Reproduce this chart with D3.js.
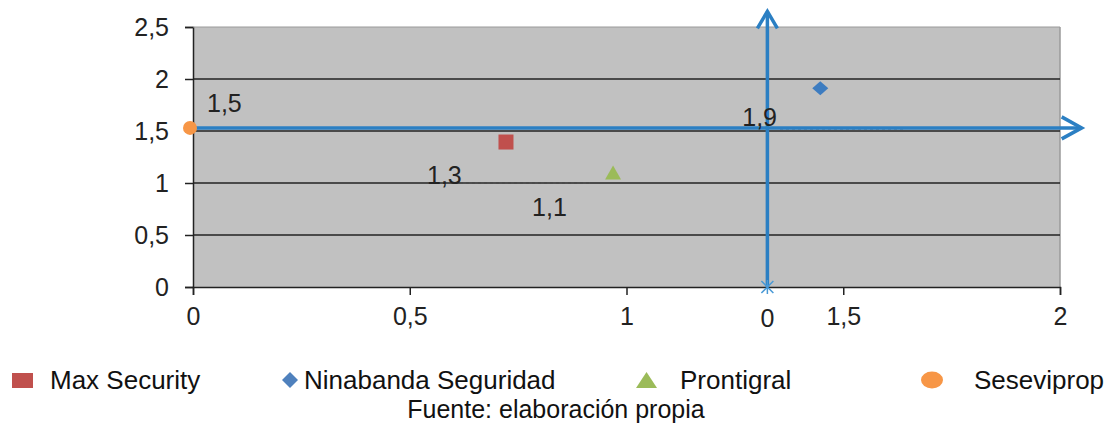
<!DOCTYPE html>
<html><head><meta charset="utf-8">
<script src="https://cdn.jsdelivr.net/npm/d3@7"></script>
<style>
html,body{margin:0;padding:0;background:#fff;}
svg{display:block;font-family:"Liberation Sans",Arial,sans-serif;}
</style></head>
<body><svg id="c" width="1112" height="425"></svg>
<script>
// ---- data ----
const seriesNames = ["Max Security", "Ninabanda Seguridad", "Prontigral", "Seseviprop"];
const xValues = [0.722, 1.447, 0.969, 0.0];
const yValues = [1.394, 1.91, 1.1, 1.53];
const pointLabels = ["1,3", "1,9", "1,1", "1,5"];
const seriesColors = ["#c0504d", "#3d7cc0", "#9bbb59", "#f79646"];
const seriesShapes = ["square", "diamond", "triangle", "circle"];
const xTicks = [0, 0.5, 1, 1.5, 2];
const yTicks = [0, 0.5, 1, 1.5, 2, 2.5];
const crossX = 1.325, crossY = 1.53;      // overlay quadrant axes
const crossXEnd = 2.05, crossYEnd = 2.65;  // arrow tips
const crossLabel = "0";
const sourceText = "Fuente: elaboración propia";

const svg = d3.select("#c");
const x = d3.scaleLinear().domain([0, 2]).range([193, 1060]);
const y = d3.scaleLinear().domain([0, 2.5]).range([287, 27]);
const fmt = d => String(d).replace(".", ",");

// plot background
svg.append("rect").attr("x", x(0)).attr("y", y(2.5))
  .attr("width", x(2) - x(0)).attr("height", y(0) - y(2.5))
  .attr("fill", "#c1c1c1");
svg.append("line").attr("x1", x(2)).attr("x2", x(2)).attr("y1", y(2.5)).attr("y2", y(0))
  .attr("stroke", "#9a9a9a").attr("stroke-width", 1.5);

// gridlines + y axis
const yAxis = d3.axisLeft(y).tickValues(yTicks).tickFormat(fmt).tickSize(8).tickPadding(16);
const gy = svg.append("g").attr("transform", `translate(${x(0)},0)`).call(yAxis);
gy.select(".domain").attr("stroke", "#222").attr("stroke-width", 1.5);
gy.selectAll(".tick line").attr("stroke", "#222").attr("stroke-width", 1.5);
gy.selectAll(".tick text").attr("font-size", 25).attr("fill", "#222")
  .attr("font-family", "Liberation Sans, Arial, sans-serif");
svg.append("g").selectAll("line").data(yTicks.filter(d => d > 0 && d < 2.5)).join("line")
  .attr("x1", x(0)).attr("x2", x(2)).attr("y1", d => y(d)).attr("y2", d => y(d))
  .attr("stroke", "#222").attr("stroke-width", 1.5);
svg.append("line").attr("x1", x(0)).attr("x2", x(2)).attr("y1", y(2.5)).attr("y2", y(2.5))
  .attr("stroke", "#9a9a9a").attr("stroke-width", 1);

// x axis
const xAxis = d3.axisBottom(x).tickValues(xTicks).tickFormat(fmt).tickSize(8).tickPadding(12);
const gx = svg.append("g").attr("transform", `translate(0,${y(0)})`).call(xAxis);
gx.select(".domain").attr("stroke", "#222").attr("stroke-width", 1.5);
gx.selectAll(".tick line").attr("stroke", "#222").attr("stroke-width", 1.5);
gx.selectAll(".tick text").attr("font-size", 25).attr("fill", "#222")
  .attr("font-family", "Liberation Sans, Arial, sans-serif");

// leader dotted lines for labels
const blue = "#2b7fc3";
svg.append("line").attr("x1", 463).attr("x2", 590).attr("y1", y(1)).attr("y2", y(1))
  .attr("stroke", "#555").attr("stroke-width", 1.5).attr("stroke-dasharray", "3,3").attr("opacity", 0.6);
svg.append("line").attr("x1", 780).attr("x2", 905).attr("y1", y(crossY) + 1).attr("y2", y(crossY) + 1)
  .attr("stroke", "#555").attr("stroke-width", 1.5).attr("stroke-dasharray", "3,3").attr("opacity", 0.6);

// overlay cross (quadrant) axes
svg.append("line").attr("x1", x(0)).attr("x2", x(crossXEnd)).attr("y1", y(crossY)).attr("y2", y(crossY))
  .attr("stroke", blue).attr("stroke-width", 3.5);
svg.append("line").attr("x1", x(crossX)).attr("x2", x(crossX)).attr("y1", y(0)).attr("y2", y(crossYEnd))
  .attr("stroke", blue).attr("stroke-width", 3.5);
// arrowheads
svg.append("path")
  .attr("d", `M${x(crossXEnd) - 20},${y(crossY) - 11} L${x(crossXEnd)},${y(crossY)} L${x(crossXEnd) - 20},${y(crossY) + 11}`)
  .attr("fill", "none").attr("stroke", blue).attr("stroke-width", 3.5).attr("stroke-linejoin", "miter");
svg.append("path")
  .attr("d", `M${x(crossX) - 10},${y(crossYEnd) + 17} L${x(crossX)},${y(crossYEnd)} L${x(crossX) + 10},${y(crossYEnd) + 17}`)
  .attr("fill", "none").attr("stroke", blue).attr("stroke-width", 3.5);
// asterisk at base
const ax = x(crossX), ay = y(0);
svg.append("path")
  .attr("d", `M${ax - 6},${ay - 6} L${ax + 6},${ay + 6} M${ax + 6},${ay - 6} L${ax - 6},${ay + 6} M${ax},${ay - 7} L${ax},${ay + 7}`)
  .attr("stroke", "#4a9ad6").attr("stroke-width", 1.5);
svg.append("text").attr("x", x(crossX)).attr("y", 327).attr("text-anchor", "middle")
  .attr("font-size", 25).attr("fill", "#222").text(crossLabel);

// markers
const shapePath = {
  square: "M-7.5,-7.5H7.5V7.5H-7.5Z",
  diamond: "M0,-7L8,0L0,7L-8,0Z",
  triangle: "M0,-7L8,7H-8Z",
  circle: "M-7,0A7,7 0 1,0 7,0A7,7 0 1,0 -7,0Z"
};
const pts = seriesNames.map((n, i) => ({n, x: xValues[i], y: yValues[i], c: seriesColors[i], s: seriesShapes[i], l: pointLabels[i]}));
svg.append("g").selectAll("path").data(pts).join("path")
  .attr("transform", d => `translate(${x(d.x) - (d.s === "circle" ? 3 : 0)},${y(d.y)})`)
  .attr("d", d => shapePath[d.s])
  .attr("fill", d => d.c);

// data labels
const off = {square: [-79, 42], diamond: [-78, 38], triangle: [-81, 43], circle: [14, -16]};
svg.append("g").selectAll("text").data(pts).join("text")
  .attr("x", d => x(d.x) + off[d.s][0]).attr("y", d => y(d.y) + off[d.s][1])
  .attr("font-size", 25).attr("fill", "#222").text(d => d.l);

// legend
const legendColors = ["#c0504d", "#4f81bd", "#9bbb59", "#f79646"];
const legX = [12, 282, 636, 921];
const txtX = [50, 304, 680, 974];
const lg = svg.append("g");
pts.forEach((d, i) => {
  let mk;
  if (d.s === "square") mk = lg.append("rect").attr("x", legX[i]).attr("y", 373).attr("width", 21).attr("height", 15);
  else if (d.s === "diamond") mk = lg.append("path").attr("d", `M${legX[i] + 8},372 L${legX[i] + 16},380 L${legX[i] + 8},388 L${legX[i]},380 Z`);
  else if (d.s === "triangle") mk = lg.append("path").attr("d", `M${legX[i] + 10.5},372 L${legX[i] + 21},388 L${legX[i]},388 Z`);
  else mk = lg.append("ellipse").attr("cx", legX[i] + 11).attr("cy", 380).attr("rx", 11).attr("ry", 8.5);
  mk.attr("fill", legendColors[i]);
  lg.append("text").attr("x", txtX[i]).attr("y", 389).attr("font-size", 26).attr("fill", "#111").text(d.n);
});
svg.append("text").attr("x", 556).attr("y", 418).attr("text-anchor", "middle")
  .attr("font-size", 25).attr("fill", "#111").text(sourceText);
</script></body></html>
